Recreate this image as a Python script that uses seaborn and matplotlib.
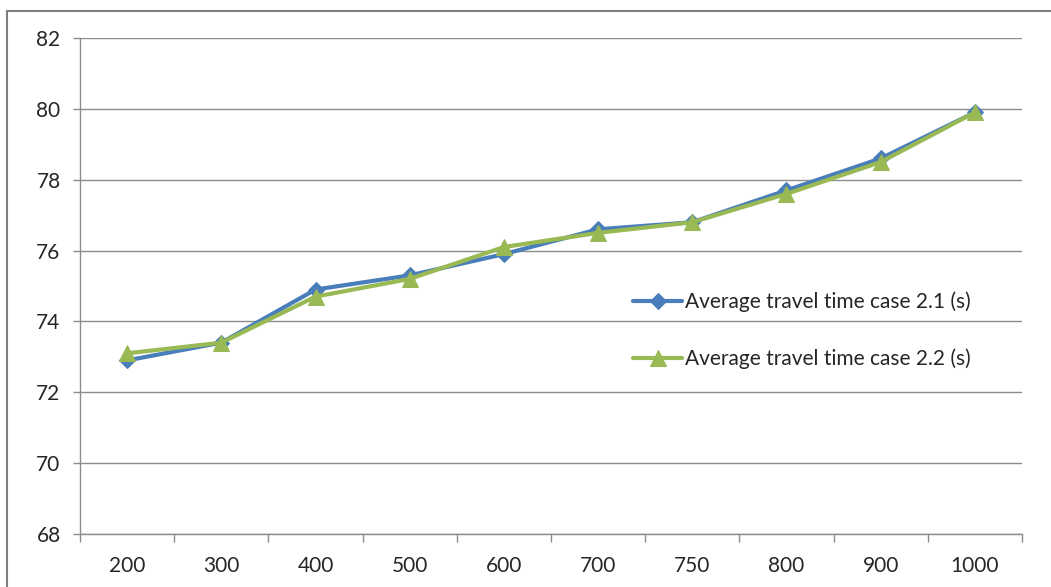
import matplotlib
matplotlib.use("Agg")
import matplotlib.pyplot as plt
from matplotlib.lines import Line2D
import numpy as np
import pandas as pd
import seaborn as sns

# Number of vehicles (category labels) and average travel time for each case
categories = ["200", "300", "400", "500", "600", "700", "750", "800", "900", "1000"]
case_21 = [72.9, 73.4, 74.9, 75.3, 75.9, 76.6, 76.8, 77.7, 78.6, 79.9]
case_22 = [73.1, 73.4, 74.7, 75.2, 76.1, 76.5, 76.8, 77.6, 78.5, 79.9]
label_21 = "Average travel time case 2.1 (s)"
label_22 = "Average travel time case 2.2 (s)"
y_ticks = [68, 70, 72, 74, 76, 78, 80, 82]

sns.set_theme(style="white")
plt.rcParams["font.family"] = ["Lato", "DejaVu Sans"]

BLUE = "#4A7EBB"
GREEN = "#98B954"
GRID = "#8C8C8C"
TEXT = "#262626"
FS = 15

pos = np.arange(len(categories))
df21 = pd.DataFrame({"pos": pos, "value": case_21})
df22 = pd.DataFrame({"pos": pos, "value": case_22})

fig = plt.figure(figsize=(10.51, 5.87), dpi=100)
ax = fig.add_axes([80 / 1051, 1 - 534 / 587, (1022 - 80) / 1051, (534 - 38) / 587])

sns.lineplot(data=df21, x="pos", y="value", ax=ax, color=BLUE, lw=3.0,
             marker="D", markersize=8, markeredgecolor=BLUE, label=label_21)
sns.lineplot(data=df22, x="pos", y="value", ax=ax, color=GREEN, lw=3.0,
             marker="^", markersize=11, markeredgecolor=GREEN, label=label_22)

ax.set_xlim(-0.5, len(categories) - 0.5)
ax.set_ylim(68, 82)
ax.set_yticks(y_ticks)
ax.set_yticklabels([str(v) for v in y_ticks])
ax.set_xticks(pos)
ax.set_xticklabels(categories)
ax.set_xticks(np.arange(-0.5, len(categories)), minor=True)
ax.set_xlabel("")
ax.set_ylabel("")

ax.grid(axis="y", color=GRID, lw=1.0)
ax.grid(axis="x", visible=False)
ax.set_axisbelow(True)

for side in ("top", "right"):
    ax.spines[side].set_visible(False)
for side in ("left", "bottom"):
    ax.spines[side].set_color(GRID)
    ax.spines[side].set_linewidth(1.0)

ax.tick_params(axis="y", which="major", direction="out", length=5, width=1,
               color=GRID, labelsize=FS, labelcolor=TEXT, pad=9, left=True)
ax.tick_params(axis="x", which="major", length=0, labelsize=FS,
               labelcolor=TEXT, pad=16)
ax.tick_params(axis="x", which="minor", direction="out", length=6, width=1,
               color=GRID, bottom=True)

ax.legend(loc="center left", bbox_to_anchor=(0.5785, 0.41), frameon=False,
          fontsize=FS, labelspacing=1.75, handlelength=2.35, handletextpad=0.12,
          borderaxespad=0)
for txt in ax.get_legend().get_texts():
    txt.set_color(TEXT)

# Outer chart-area border
fig.add_artist(Line2D([7 / 1051, 7 / 1051], [0, 1 - 11 / 587], transform=fig.transFigure,
                      color="#7F7F7F", lw=1.5))
fig.add_artist(Line2D([7 / 1051, 1], [1 - 11 / 587, 1 - 11 / 587], transform=fig.transFigure,
                      color="#7F7F7F", lw=1.5))

fig.savefig("out.png", dpi=100, facecolor="white")
